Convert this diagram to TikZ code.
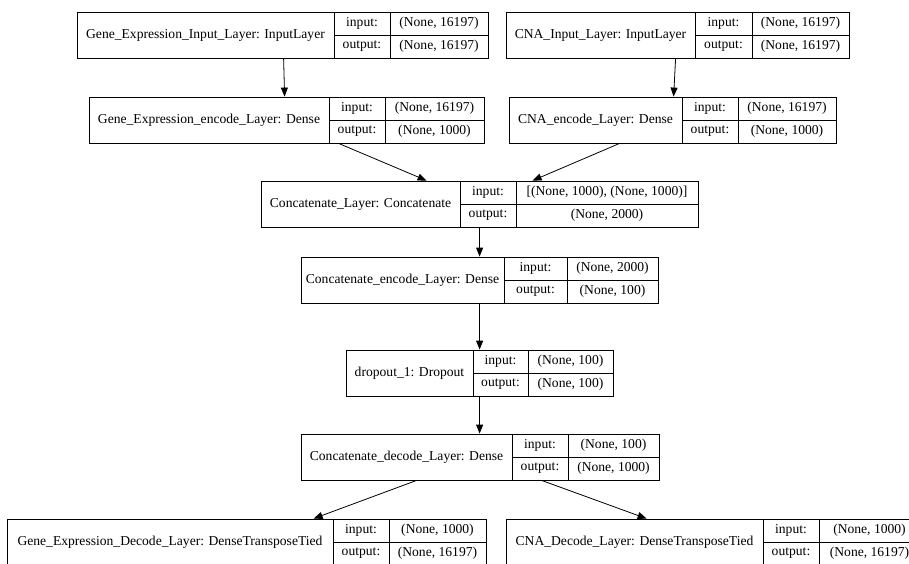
\documentclass[tikz,border=0pt]{standalone}
\usepackage{fontspec}
\setmainfont{Liberation Serif}
\usetikzlibrary{fit,calc,arrows.meta}
\tikzset{
  box/.style={draw, line width=0.8pt, inner sep=0pt},
  sep/.style={draw, line width=0.8pt},
  txt/.style={inner sep=0pt, font=\fontsize{13.6}{16}\selectfont},
  arr/.style={draw, line width=0.8pt, -{Triangle[length=9pt,width=7pt]}}
}
% #1 name, #2 left, #3 divider, #4 column, #5 right, #6 top, #7 label, #8 input, #9 output
\newcommand\layerbox[9]{%
  \node[box, fit={(#2,#6) (#5,{#6+46})}] (#1) {};
  \draw[sep] (#3,#6) -- (#3,{#6+46});
  \draw[sep] (#4,#6) -- (#4,{#6+46});
  \draw[sep] (#3,{#6+23}) -- (#5,{#6+23});
  \node[txt] (#1-l) at ({(#2+#3)/2},{#6+23}) {#7};
  \node[txt] (#1-ik) at ({(#3+#4)/2},{#6+11.5}) {input:};
  \node[txt] (#1-ok) at ({(#3+#4)/2},{#6+34.5}) {output:};
  \node[txt] (#1-iv) at ({(#4+#5)/2},{#6+11.5}) {#8};
  \node[txt] (#1-ov) at ({(#4+#5)/2},{#6+34.5}) {#9};
}
\begin{document}
\begin{tikzpicture}[x=1pt,y=-1pt]
\useasboundingbox (0,0) rectangle (909,563);
\clip (0,0) rectangle (909,563);
\fill[white] (0,0) rectangle (909,563);
\layerbox{gin}{77}{334}{390}{488}{12}{Gene\_Expression\_Input\_Layer: InputLayer}{(None, 16197)}{(None, 16197)}
\layerbox{cin}{506}{695}{752}{849}{12}{CNA\_Input\_Layer: InputLayer}{(None, 16197)}{(None, 16197)}
\layerbox{genc}{89}{329}{385}{484}{97}{Gene\_Expression\_encode\_Layer: Dense}{(None, 16197)}{(None, 1000)}
\layerbox{cenc}{509}{682}{738}{836}{97}{CNA\_encode\_Layer: Dense}{(None, 16197)}{(None, 1000)}
\layerbox{cat}{261}{460}{516}{698}{181}{Concatenate\_Layer: Concatenate}{[(None, 1000), (None, 1000)]}{(None, 2000)}
\layerbox{catenc}{301}{504}{567}{658}{257}{Concatenate\_encode\_Layer: Dense}{(None, 2000)}{(None, 100)}
\layerbox{drop}{346}{473}{528}{613}{350}{dropout\_1: Dropout}{(None, 100)}{(None, 100)}
\layerbox{catdec}{301}{512}{568}{659}{434}{Concatenate\_decode\_Layer: Dense}{(None, 100)}{(None, 1000)}
\layerbox{gdec}{7}{333}{389}{486}{519}{Gene\_Expression\_Decode\_Layer: DenseTransposeTied}{(None, 1000)}{(None, 16197)}
\layerbox{cdec}{506}{763}{819}{920}{519}{CNA\_Decode\_Layer: DenseTransposeTied}{(None, 1000)}{(None, 16197)}

\draw[arr] ($(gin.south west)+(207,0)$) -- ($(genc.north west)+(196,0)$);
\draw[arr] ($(cin.south west)+(170,0)$) -- ($(cenc.north west)+(165,0)$);
\draw[arr] ($(genc.south west)+(250,0)$) -- ($(cat.north west)+(166,0)$);
\draw[arr] ($(cenc.south west)+(111,0)$) -- ($(cat.north west)+(272,0)$);
\draw[arr] ($(cat.south west)+(219,0)$) -- ($(catenc.north west)+(179,0)$);
\draw[arr] ($(catenc.south west)+(179,0)$) -- ($(drop.north west)+(134,0)$);
\draw[arr] ($(drop.south west)+(134,0)$) -- ($(catdec.north west)+(179,0)$);
\draw[arr] ($(catdec.south west)+(116,0)$) -- ($(gdec.north west)+(307,0)$);
\draw[arr] ($(catdec.south west)+(241,0)$) -- ($(cdec.north west)+(141,0)$);
\end{tikzpicture}
\end{document}
